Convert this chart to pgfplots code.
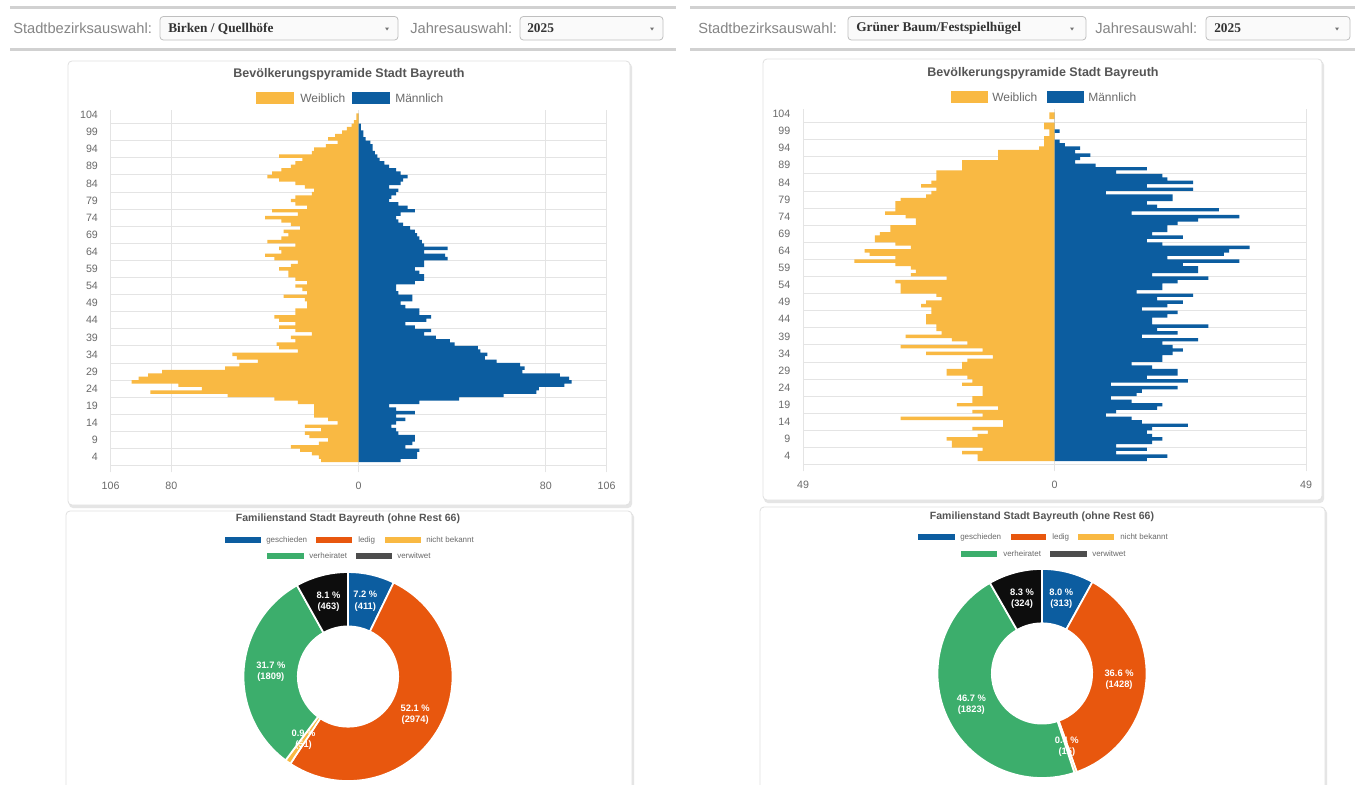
\documentclass[border=0pt]{standalone}
\usepackage{pgfplots}
\pgfplotsset{compat=1.18}
\usepackage{pgfplotstable}
\usepackage{fontspec}
\setmainfont{Liberation Sans}
\newfontfamily\ddfont{Liberation Serif}

\definecolor{fem}{HTML}{F9B943}
\definecolor{mal}{HTML}{0C5DA0}
\definecolor{cBlue}{HTML}{0C5DA0}
\definecolor{cOrange}{HTML}{E8570E}
\definecolor{cYellow}{HTML}{F9B943}
\definecolor{cGreen}{HTML}{3CAE6C}
\definecolor{cBlack}{HTML}{0D0D0D}
\definecolor{cGray}{HTML}{4D4D4D}
\definecolor{txtgray}{HTML}{6A6A6A}
\definecolor{ttlgray}{HTML}{555555}
\definecolor{gridgray}{HTML}{E4E4E4}

% age pyramid Birken / Quellhoefe: p = row position, f = weiblich, m = maennlich
\pgfplotstableread{
p f m
104 1 0
103 1 0
102 2 0
101 3 1
100 5 1
99 7 2
98 10 2
97 13 3
96 9 5
95 14 6
94 19 6
93 20 7
92 34 8
91 24 9
90 27 11
89 29 13
88 33 16
87 37 18
86 39 21
85 34 19
84 27 18
83 23 13
82 19 17
81 20 16
80 27 14
79 29 13
78 27 17
77 22 21
76 37 24
75 26 18
74 40 16
73 33 17
72 29 19
71 25 22
70 32 24
69 30 25
68 33 26
67 39 27
66 27 28
65 34 38
64 33 28
63 40 37
62 36 38
61 26 28
60 29 28
59 34 24
58 30 26
57 30 28
56 27 28
55 22 24
54 27 16
53 24 16
52 22 17
51 32 23
50 23 23
49 22 18
48 22 20
47 27 26
46 27 26
45 36 31
44 34 29
43 27 20
42 34 24
41 27 31
40 20 28
39 29 33
38 27 39
37 35 41
36 34 51
35 26 52
34 54 55
33 52 54
32 43 59
31 51 69
30 57 71
29 84 70
28 90 86
27 94 90
26 97 91
25 77 88
24 67 77
23 89 76
22 56 62
21 36 43
20 26 26
19 19 13
18 19 16
17 19 24
16 19 16
15 13 20
14 9 16
13 23 14
12 16 16
11 23 17
10 21 24
9 13 24
8 17 23
7 29 20
6 25 26
5 20 25
4 17 25
3 16 18
}\pyrL

% age pyramid Gruener Baum / Festspielhuegel
\pgfplotstableread{
p f m
104 1 0
103 1 0
102 0 0
101 2 0
100 2 0
99 1 1
98 1 0
97 2 0
96 2 1
95 2 2
94 3 5
93 11 4
92 11 7
91 11 5
90 18 4
89 18 8
88 18 18
87 23 12
86 23 21
85 23 22
84 24 27
83 26 18
82 23 27
81 24 10
80 25 23
79 30 23
78 31 18
77 31 20
76 31 32
75 33 15
74 29 36
73 27 28
72 27 24
71 32 22
70 32 22
69 34 19
68 35 25
67 35 18
66 31 21
65 28 38
64 37 34
63 36 33
62 31 22
61 39 36
60 31 25
59 28 28
58 27 28
57 28 19
56 21 30
55 31 24
54 30 21
53 30 21
52 30 16
51 23 27
50 22 20
49 25 25
48 26 22
47 24 17
46 24 24
45 25 22
44 25 19
43 25 19
42 23 30
41 23 20
40 22 24
39 29 17
38 20 28
37 17 21
36 30 23
35 14 25
34 25 23
33 12 21
32 17 21
31 18 15
30 18 19
29 21 24
28 21 24
27 17 18
26 16 26
25 18 11
24 14 24
23 14 17
22 14 16
21 16 11
20 16 15
19 19 21
18 11 20
17 16 12
16 14 10
15 30 15
14 10 17
13 10 26
12 16 19
11 13 18
10 15 19
9 21 21
8 20 19
7 20 12
6 14 18
5 18 12
4 15 22
3 15 18
}\pyrR

\pgfplotstableread{
cat val col
geschieden 411 cBlue
ledig 2974 cOrange
nichtbekannt 51 cYellow
verheiratet 1809 cGreen
verwitwet 463 cBlack
}\donutL

\pgfplotstableread{
cat val col
geschieden 313 cBlue
ledig 1428 cOrange
nichtbekannt 15 cYellow
verheiratet 1823 cGreen
verwitwet 324 cBlack
}\donutR

\newcommand\drawdonut[2]{%
  \pgfplotstablegetrowsof{#1}\pgfmathtruncatemacro\dLast{\pgfplotsretval-1}%
  \def\dTot{0}%
  \pgfplotsforeachungrouped \i in {0,...,\dLast}{%
    \pgfplotstablegetelem{\i}{val}\of{#1}%
    \pgfmathsetmacro\dTot{\dTot+\pgfplotsretval}%
  }%
  \def\dAng{90}%
  \pgfplotsforeachungrouped \i in {0,...,\dLast}{%
    \pgfplotstablegetelem{\i}{val}\of{#1}\let\dVal\pgfplotsretval
    \pgfplotstablegetelem{\i}{col}\of{#1}\let\dCol\pgfplotsretval
    \pgfmathsetmacro\dFrac{\dVal/\dTot}%
    \pgfmathsetmacro\dAngB{\dAng-360*\dFrac}%
    \pgfmathsetmacro\dXa{cos(\dAng)}\pgfmathsetmacro\dYa{sin(\dAng)}%
    \pgfmathsetmacro\dXb{0.48*cos(\dAngB)}\pgfmathsetmacro\dYb{0.48*sin(\dAngB)}%
    \edef\dCmd{\noexpand\filldraw[fill=\dCol, draw=white, line width=1.3pt, line join=round] (axis cs:\dXa,\dYa) arc[start angle=\dAng, end angle=\dAngB, radius=#2] -- (axis cs:\dXb,\dYb) arc[start angle=\dAngB, end angle=\dAng, radius=0.48*#2] -- cycle;}%
    \dCmd
    \let\dAng\dAngB
  }%
  \def\dAng{90}%
  \pgfkeys{/pgf/number format/.cd,fixed,fixed zerofill,precision=1,assume math mode=true}%
  \pgfplotsforeachungrouped \i in {0,...,\dLast}{%
    \pgfplotstablegetelem{\i}{val}\of{#1}\let\dVal\pgfplotsretval
    \pgfmathsetmacro\dFrac{\dVal/\dTot}%
    \pgfmathsetmacro\dAngM{\dAng-180*\dFrac}%
    \pgfmathsetmacro\dXm{0.74*cos(\dAngM)}\pgfmathsetmacro\dYm{0.74*sin(\dAngM)}%
    \pgfmathsetmacro\dPct{100*\dFrac}%
    \pgfmathprintnumberto{\dPct}{\dPcts}%
    \edef\dCmd{\noexpand\node[font=\noexpand\bfseries\noexpand\fontsize{7}{8.5}\noexpand\selectfont, text=white, align=center, inner sep=0pt] at (axis cs:\dXm,\dYm) {\unexpanded\expandafter{\dPcts}\space\noexpand\%\noexpand\\(\dVal)};}%
    \dCmd
    \pgfmathsetmacro\dAng{\dAng-360*\dFrac}%
  }%
}

\pgfplotsset{
  pyr/.style={
    scale only axis, height=266.8pt,
    ymin=1.5, ymax=105.5, enlargelimits=false,
    ytick={4,9,...,104},
    minor ytick={1.5,6.5,...,101.5},
    yminorgrids=true, xmajorgrids=true,
    grid style={draw=gridgray, line width=0.6pt},
    minor grid style={draw=gridgray, line width=0.6pt},
    axis line style={draw=none},
    ytick style={draw=none}, minor tick length=0pt,
    xtick style={draw=gridgray, line width=0.6pt},
    tick align=outside, major tick length=5pt,
    xtick pos=left,
    tick label style={font=\fontsize{8}{9}\selectfont, text=txtgray},
    yticklabel style={xshift=-1pt},
    xticklabel style={yshift=-4pt},
    /pgf/number format/assume math mode=true,
  },
  bars/.style={xbar, bar shift=0pt, bar width=1, draw=none},
  donut/.style={scale only axis, width=156.75pt, height=156.75pt,
    xmin=-1, xmax=1, ymin=-1, ymax=1, hide axis, clip=false, anchor=center},
}

\begin{document}
\begin{tikzpicture}
\path[use as bounding box] (0,0) rectangle (1017.75pt,-588.75pt);
\fill[white] (0,0) rectangle (1017.75pt,-588.75pt);

\begin{scope}[x=0.75pt,y=-0.75pt]
  % top selection bars
  \foreach \xa/\xb in {10/676, 690/1355}{
    \draw[black!18, line width=2.2pt] (\xa,7.5) -- (\xb,7.5);
    \draw[black!18, line width=2.2pt] (\xa,49.5) -- (\xb,49.5);
  }
  \tikzset{dd/.style={draw=black!25, fill=black!2, rounded corners=2.5pt, line width=0.6pt},
           lab/.style={anchor=west, text=black!48, font=\fontsize{11}{13}\selectfont, inner sep=0pt},
           ddt/.style={anchor=west, font=\ddfont\bfseries\fontsize{10}{12}\selectfont, text=black!80, inner sep=0pt}}
  \node[lab] at (13,28) {Stadtbezirksauswahl:};
  \draw[dd] (160,16.5) rectangle (398,40);
  \node[ddt] at (168,28.5) {Birken / Quellhöfe};
  \fill[black!55] (385,27.5) -- (389,27.5) -- (387,30.5) -- cycle;
  \node[lab] at (410,28) {Jahresauswahl:};
  \draw[dd] (520,16.5) rectangle (663,40);
  \node[ddt] at (527,28.5) {2025};
  \fill[black!55] (650,27.5) -- (654,27.5) -- (652,30.5) -- cycle;

  \node[lab] at (698,28) {Stadtbezirksauswahl:};
  \draw[dd] (848,16.5) rectangle (1086,40);
  \node[ddt] at (856,28.5) {Grüner Baum/Festspielhügel};
  \fill[black!55] (1070,27.5) -- (1074,27.5) -- (1072,30.5) -- cycle;
  \node[lab] at (1095,28) {Jahresauswahl:};
  \draw[dd] (1206,16.5) rectangle (1350,40);
  \node[ddt] at (1214,28.5) {2025};
  \fill[black!55] (1335,27.5) -- (1339,27.5) -- (1337,30.5) -- cycle;

  % cards
  \foreach \xa/\ya/\xb/\yb in {68/61/630/505, 66/511/632/800, 763/59/1322/500, 760/507/1325/800}{
    \fill[black!10, rounded corners=3pt] (\xa+1,\ya+2) rectangle (\xb+2,\yb+3);
    \filldraw[fill=white, draw=black!12, line width=0.6pt, rounded corners=3pt] (\xa,\ya) rectangle (\xb,\yb);
  }

  % pyramid titles and legends
  \tikzset{ttl/.style={font=\bfseries\fontsize{9.4}{11}\selectfont, text=ttlgray},
           lgt/.style={anchor=west, font=\fontsize{9}{11}\selectfont, text=txtgray, inner sep=0pt}}
  \node[ttl] at (349,74) {Bevölkerungspyramide Stadt Bayreuth};
  \fill[fem] (256,92) rectangle (294,104);
  \node[lgt] at (300,98) {Weiblich};
  \fill[mal] (352,92) rectangle (390,104);
  \node[lgt] at (395,98) {Männlich};

  \node[ttl] at (1043,73) {Bevölkerungspyramide Stadt Bayreuth};
  \fill[fem] (951,91) rectangle (988,103);
  \node[lgt] at (992,97) {Weiblich};
  \fill[mal] (1047,91) rectangle (1084,103);
  \node[lgt] at (1088,97) {Männlich};

  % donut titles and legends
  \tikzset{dtl/.style={font=\bfseries\fontsize{7.9}{9}\selectfont, text=ttlgray},
           dlg/.style={anchor=west, font=\fontsize{6}{7}\selectfont, text=txtgray, inner sep=0pt}}
  \node[dtl] at (348,519) {Familienstand Stadt Bayreuth (ohne Rest 66)};
  \fill[cBlue] (225,537) rectangle (261,543);   \node[dlg] at (266,540) {geschieden};
  \fill[cOrange] (316,537) rectangle (352,543); \node[dlg] at (358,540) {ledig};
  \fill[cYellow] (385,537) rectangle (421,543); \node[dlg] at (426,540) {nicht bekannt};
  \fill[cGreen] (267,553) rectangle (304,559);  \node[dlg] at (309,556) {verheiratet};
  \fill[cGray] (356,553) rectangle (392,559);   \node[dlg] at (397,556) {verwitwet};

  \node[dtl] at (1042,517) {Familienstand Stadt Bayreuth (ohne Rest 66)};
  \fill[cBlue] (918,534) rectangle (955,540);    \node[dlg] at (960,537) {geschieden};
  \fill[cOrange] (1011,534) rectangle (1046,540); \node[dlg] at (1052,537) {ledig};
  \fill[cYellow] (1078,534) rectangle (1114,540); \node[dlg] at (1120,537) {nicht bekannt};
  \fill[cGreen] (961,551) rectangle (997,557);   \node[dlg] at (1003,554) {verheiratet};
  \fill[cGray] (1050,551) rectangle (1087,557);  \node[dlg] at (1092,554) {verwitwet};
\end{scope}

% left pyramid
\begin{axis}[pyr, at={(82.95pt,-349.2pt)}, anchor=south west, width=372pt,
  xmin=-106, xmax=106, xtick={-106,-80,0,80,106}, xticklabels={106,80,0,80,106}]
\addplot[bars, fill=fem] table[x expr=-\thisrow{f}, y=p]{\pyrL};
\addplot[bars, fill=mal] table[x=m, y=p]{\pyrL};
\end{axis}

% right pyramid
\begin{axis}[pyr, at={(602.25pt,-348.45pt)}, anchor=south west, width=377.25pt,
  xmin=-49, xmax=49, xtick={-49,0,49}, xticklabels={49,0,49}]
\addplot[bars, fill=fem] table[x expr=-\thisrow{f}, y=p]{\pyrR};
\addplot[bars, fill=mal] table[x=m, y=p]{\pyrR};
\end{axis}

% donuts
\begin{axis}[donut, at={(261pt,-507.4pt)}]
\drawdonut{\donutL}{78.375pt}
\end{axis}
\begin{axis}[donut, at={(781.5pt,-505.1pt)}]
\drawdonut{\donutR}{78.375pt}
\end{axis}
\end{tikzpicture}
\end{document}
